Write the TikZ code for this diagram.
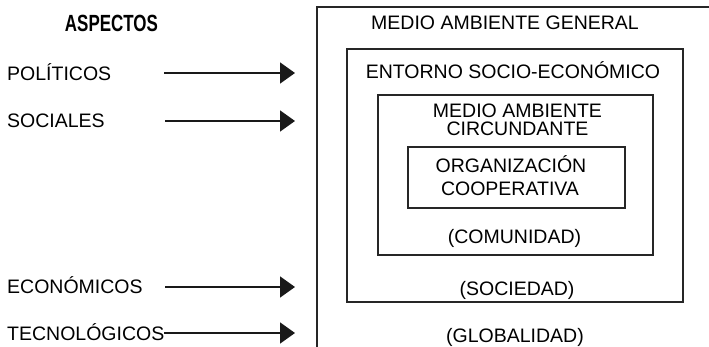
\documentclass[tikz,border=0pt]{standalone}
\usepackage{fontspec}
\setmainfont{Liberation Sans}
\usetikzlibrary{arrows.meta}
\begin{document}
\begin{tikzpicture}[x=1pt,y=-1pt,
  box/.style={draw=black!85, line width=1.7pt, minimum width=#1, inner sep=0pt},
  txt/.style={anchor=base, inner sep=0pt, font=\fontsize{19.5}{19.5}\selectfont, text=black},
  lbl/.style={anchor=base west, inner sep=0pt, font=\fontsize{19.5}{19.5}\selectfont, text=black},
  arr/.style={line width=1.6pt, draw=black!90, -{Triangle[length=15pt,width=21pt]}}]
\useasboundingbox (0,0) rectangle (709,347);
\clip (0,0) rectangle (709,347);
% boxes
\node[box=403pt, minimum height=353pt] (gen) at (518.5,183.5) {};
\node[box=336pt, minimum height=253pt] (soc) at (515,175.5) {};
\node[box=275pt, minimum height=160pt] (com) at (515.5,175) {};
\node[box=217pt, minimum height=61pt] (org) at (516.5,177.5) {};
% texts in boxes
\node[txt] (t1) at (505,30) {MEDIO AMBIENTE GENERAL};
\node[txt] (t2) at (513,79) {ENTORNO SOCIO-ECONÓMICO};
\node[txt] (t3) at (517.5,118) {MEDIO AMBIENTE};
\node[txt] (t4) at (517.5,136) {CIRCUNDANTE};
\node[txt] (t5) at (511,173) {ORGANIZACIÓN};
\node[txt] (t6) at (510,196) {COOPERATIVA};
\node[txt] (t7) at (514.5,244) {(COMUNIDAD)};
\node[txt] (t8) at (517,295) {(SOCIEDAD)};
\node[txt] (t9) at (515,342) {(GLOBALIDAD)};
% left labels
\node[txt, font=\fontsize{19.5}{19.5}\selectfont\bfseries] (asp) at (111.5,32) {\scalebox{0.87}[1.2]{ASPECTOS}};
\node[lbl] (pol) at (7,80.5) {POLÍTICOS};
\node[lbl] (sci) at (7,128) {SOCIALES};
\node[lbl] (eco) at (7,294) {ECONÓMICOS};
\node[lbl] (tec) at (7,340) {TECNOLÓGICOS};
% arrow ends
\coordinate (p0) at (164,73);   \coordinate (p1) at (295,73);
\coordinate (s0) at (165,121);  \coordinate (s1) at (295,121);
\coordinate (e0) at (165,287);  \coordinate (e1) at (295,287);
\coordinate (g0) at (164,333);  \coordinate (g1) at (295,333);
\draw[arr] (p0) -- (p1);
\draw[arr] (s0) -- (s1);
\draw[arr] (e0) -- (e1);
\draw[arr] (g0) -- (g1);
\end{tikzpicture}
\end{document}
